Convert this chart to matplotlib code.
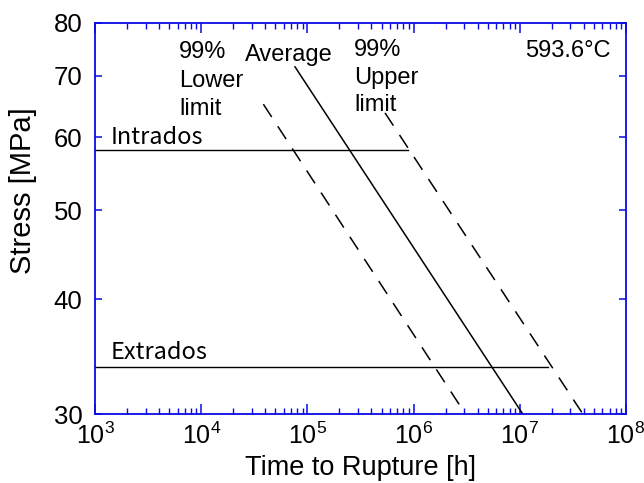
import matplotlib
matplotlib.use('Agg')
import matplotlib.pyplot as plt
from matplotlib.ticker import FixedLocator, FixedFormatter, NullLocator, NullFormatter

plt.rcParams['font.family'] = ['Liberation Sans', 'DejaVu Sans']
plt.rcParams['mathtext.fontset'] = 'custom'
plt.rcParams['mathtext.rm'] = 'Liberation Sans'
plt.rcParams['mathtext.it'] = 'Liberation Sans:italic'
plt.rcParams['mathtext.bf'] = 'Liberation Sans:bold'
plt.rcParams['lines.scale_dashes'] = False

# ---- data ----
average_time = [7.64e4, 1.07e7]
average_stress = [71.6, 30.0]
lower_time = [3.85e4, 3.09e6]
lower_stress = [65.2, 30.0]
upper_time = [5.38e5, 3.94e7]
upper_stress = [63.8, 30.0]
intrados_time = [1e3, 8.9e5]
intrados_stress = [58.2, 58.2]
extrados_time = [1e3, 1.86e7]
extrados_stress = [33.8, 33.8]

x_major = [1e3, 1e4, 1e5, 1e6, 1e7, 1e8]
x_labels = ['$10^{3}$', '$10^{4}$', '$10^{5}$', '$10^{6}$', '$10^{7}$', '$10^{8}$']
y_major = [30, 40, 50, 60, 70, 80]
y_labels = ['30', '40', '50', '60', '70', '80']

BLUE = '#0a0ae6'

fig = plt.figure(figsize=(6.44, 4.83), dpi=100)
ax = fig.add_axes([95 / 644, 1 - 414.3 / 483, 531 / 644, 391.8 / 483])
ax.set_xscale('log')
ax.set_yscale('log')
ax.set_xlim(1e3, 1e8)
ax.set_ylim(30, 80)

ax.plot(average_time, average_stress, color='black', lw=1.1)
ax.plot(lower_time, lower_stress, color='black', lw=1.1, dashes=(11, 8))
ax.plot(upper_time, upper_stress, color='black', lw=1.1, dashes=(11, 8))
ax.plot(intrados_time, intrados_stress, color='black', lw=1.0)
ax.plot(extrados_time, extrados_stress, color='black', lw=1.0)

# ticks
minor = [m * 10 ** e for e in range(3, 8) for m in range(2, 10)]
ax.xaxis.set_major_locator(FixedLocator(x_major))
ax.xaxis.set_major_formatter(FixedFormatter(x_labels))
ax.xaxis.set_minor_locator(FixedLocator(minor))
ax.xaxis.set_minor_formatter(NullFormatter())
ax.yaxis.set_major_locator(FixedLocator(y_major))
ax.yaxis.set_major_formatter(FixedFormatter(y_labels))
ax.yaxis.set_minor_locator(NullLocator())
ax.yaxis.set_minor_formatter(NullFormatter())

ax.tick_params(axis='x', which='major', direction='in', top=True, length=7.5, width=1.1,
               color=BLUE, labelsize=18, pad=6)
ax.tick_params(axis='x', which='minor', direction='in', top=True, length=4.3, width=1.0,
               color=BLUE)
ax.tick_params(axis='y', which='major', direction='in', right=True, length=5, width=1.1,
               color=BLUE, labelsize=18.5, pad=9)
for s in ax.spines.values():
    s.set_color(BLUE)
    s.set_linewidth(1.3)

ax.set_xlabel('Time to Rupture [h]', fontsize=19.5)
ax.xaxis.set_label_coords(0.5, -0.105)
ax.set_ylabel('Stress [MPa]', fontsize=21)
ax.yaxis.set_label_coords(-0.11, 0.57)

tr = ax.transAxes
fs = 17
ax.text(0.1588, 0.9094, '99%', transform=tr, fontsize=fs, va='baseline')
ax.text(0.1588, 0.8341, 'Lower', transform=tr, fontsize=fs, va='baseline')
ax.text(0.1588, 0.7639, 'limit', transform=tr, fontsize=fs, va='baseline')
ax.text(0.2832, 0.9007, 'Average', transform=tr, fontsize=fs, va='baseline')
ax.text(0.4883, 0.9150, '99%', transform=tr, fontsize=fs, va='baseline')
ax.text(0.4883, 0.8420, 'Upper', transform=tr, fontsize=fs, va='baseline')
ax.text(0.4883, 0.7740, 'limit', transform=tr, fontsize=fs, va='baseline')
ax.text(0.9718, 0.9127, '593.6°C', transform=tr, fontsize=fs, va='baseline', ha='right')
ax.text(0.0296, 0.690, 'Intrados', transform=tr, fontsize=fs, va='baseline',
        family=['Noto Sans CJK JP', 'DejaVu Sans'])
ax.text(0.0296, 0.141, 'Extrados', transform=tr, fontsize=fs, va='baseline',
        family=['Noto Sans CJK JP', 'DejaVu Sans'])

fig.savefig('out.png', dpi=100)
